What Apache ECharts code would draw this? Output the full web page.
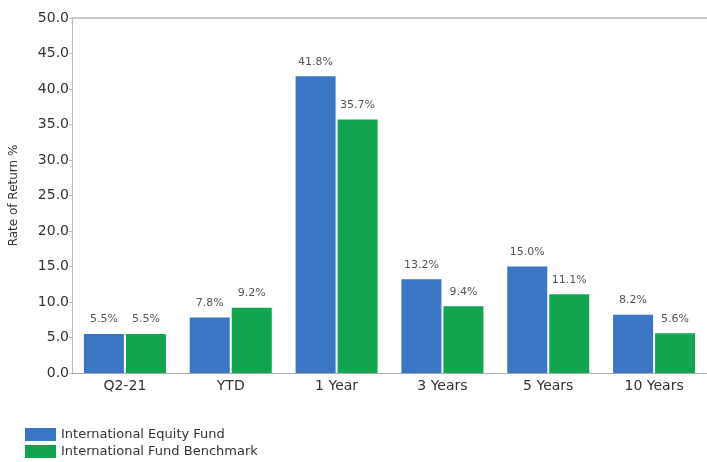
<!DOCTYPE html>
<html><head><meta charset="utf-8">
<script src="https://cdn.jsdelivr.net/npm/echarts@6/dist/echarts.min.js"></script>
<style>html,body{margin:0;padding:0;background:#fff}#c{width:707px;height:462px}</style>
</head><body><div id="c"></div>
<script>
var categories = ["Q2-21", "YTD", "1 Year", "3 Years", "5 Years", "10 Years"];
var fundValues = [5.5, 7.8, 41.8, 13.2, 15.0, 8.2];
var benchmarkValues = [5.5, 9.2, 35.7, 9.4, 11.1, 5.6];
var seriesNames = ["International Equity Fund", "International Fund Benchmark"];

var FONT = 'DejaVu Sans, Liberation Sans, Arial';
var chart = echarts.init(document.getElementById('c'));
var lbl = {
  show: true, position: 'top', distance: 9,
  formatter: function(p){ return p.value.toFixed(1) + '%'; },
  fontFamily: FONT, fontSize: 11, color: '#555'
};
chart.setOption({
  animation: false,
  grid: {left: 72, right: 0, top: 18, bottom: 89, outerBoundsMode: 'none', containLabel: false},
  legend: {
    orient: 'vertical', left: 25, top: 428, itemGap: 4, padding: 0,
    itemWidth: 31, itemHeight: 13, icon: 'rect',
    textStyle: {fontFamily: FONT, fontSize: 13, color: '#333'},
    data: seriesNames
  },
  xAxis: [{
    type: 'category', data: categories,
    axisLine: {lineStyle: {color: '#aaa', width: 1}},
    axisTick: {show: false},
    axisLabel: {fontFamily: FONT, fontSize: 14, color: '#333', margin: 6}
  }, {
    type: 'category', data: categories, position: 'top',
    axisLine: {show: true, lineStyle: {color: '#c8c8c8', width: 2}},
    axisTick: {show: false}, axisLabel: {show: false}
  }],
  yAxis: {
    type: 'value', min: 0, max: 50, interval: 5,
    name: 'Rate of Return %', nameLocation: 'middle', nameGap: 52, nameRotate: 90,
    nameTextStyle: {fontFamily: FONT, fontSize: 12, color: '#333'},
    axisLine: {show: true, lineStyle: {color: '#bbb'}},
    axisTick: {show: true, inside: false, length: 3, lineStyle: {color: '#bbb'}},
    splitLine: {show: false},
    axisLabel: {fontFamily: FONT, fontSize: 14, color: '#333', margin: 3,
      formatter: function(v){ return v.toFixed(1); }}
  },
  series: [{
    name: seriesNames[0], type: 'bar', data: fundValues,
    barWidth: 40, barGap: '5%',
    itemStyle: {color: '#3a76c4'}, label: lbl
  }, {
    name: seriesNames[1], type: 'bar', data: benchmarkValues,
    barWidth: 40, barGap: '5%',
    itemStyle: {color: '#12a550'}, label: lbl
  }]
});
</script></body></html>
